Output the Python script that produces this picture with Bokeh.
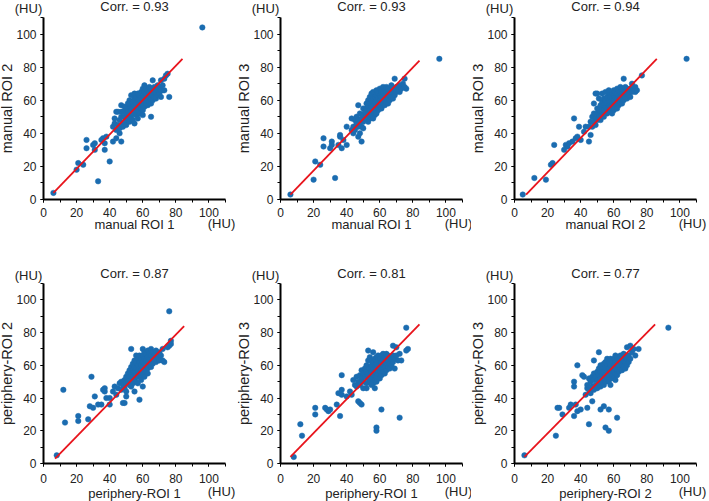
from bokeh.plotting import figure
from bokeh.layouts import row, column
from bokeh.models import Range1d, SingleIntervalTicker, Label, LinearAxis
from bokeh.embed import file_html
from bokeh.resources import INLINE

FONT = "Liberation Sans"
BLUE = "#1b6cb0"
RED = "#e8141c"
TXT = "#222222"

# ---------------- data ----------------
titles = ["Corr. = 0.93", "Corr. = 0.93", "Corr. = 0.94",
          "Corr. = 0.87", "Corr. = 0.81", "Corr. = 0.77"]
x_labels = ["manual ROI 1", "manual ROI 1", "manual ROI 2",
            "periphery-ROI 1", "periphery-ROI 1", "periphery-ROI 2"]
y_labels = ["manual ROI 2", "manual ROI 3", "manual ROI 3",
            "periphery-ROI 2", "periphery-ROI 3", "periphery-ROI 3"]
axis_min, axis_max = 0, 110
unit_label = "(HU)"

# fitted lines: (x0, x1), (y0, y1)
line1_x = [6, 84];  line1_y = [4, 85]
line2_x = [6, 84];  line2_y = [3, 84]
line3_x = [7, 86];  line3_y = [3, 85]
line4_x = [7, 85];  line4_y = [3, 84]
line5_x = [6, 84];  line5_y = [4, 85]
line6_x = [6, 85];  line6_y = [4, 85]

# manual ROI 1 vs manual ROI 2
pts1 = [(6,4),(20,18),(21,22),(24,21),(26,36),(26,31),(30,33),(31,34),(31,30),(33,11),
        (35,36),(36,37),(37,34),(37,30),(38,38),(40,23),(42,35),(47,35),(65,50),(76,62),
        (96,104),(74,75),(75,76),(73,73),(71,72),(72,66),
        (42,44),(43,46),(43,49),(44,42),(44,53),(45,45),(45,53),(46,48),(46,43),(47,50),
        (47,53),(48,46),(48,44),(48,53),(49,50),(49,47),(50,52),(50,45),(50,55),(51,49),
        (51,53),(52,47),(52,51),(52,56),(52,60),(53,50),(53,54),(53,57),(53,63),(54,52),
        (54,56),(54,59),(54,48),(55,54),(55,57),(55,61),(55,64),(56,51),(56,55),(56,58),
        (56,62),(57,53),(57,56),(57,60),(57,64),(58,52),(58,57),(58,60),(58,63),(59,55),
        (59,58),(59,62),(59,65),(60,54),(60,57),(60,60),(60,63),(60,67),(61,56),(61,59),
        (61,62),(61,65),(61,69),(62,58),(62,61),(62,64),(62,67),(63,57),(63,60),(63,63),
        (63,66),(64,59),(64,62),(64,65),(64,68),(65,58),(65,61),(65,64),(65,67),(66,60),
        (66,63),(66,66),(66,72),(67,62),(67,65),(67,68),(68,61),(68,64),(68,67),(69,63),
        (69,66),(69,69),(70,64),(70,67),(71,66),(71,62),(72,69),(73,66),(47,57),(49,56),
        (51,58),(44,37),(46,40),(55,46),(57,49),(60,51)]

# manual ROI 1 vs manual ROI 3
pts2 = [(6,3),(20,12),(21,23),(24,21),(26,37),(26,32),(30,31),(31,35),(31,33),(33,13),
        (35,33),(36,38),(37,31),(38,36),(40,33),(36,39),(40,44),(43,49),(45,44),(47,57),
        (47,38),(49,35),(44,40),(76,67),(75,73),(69,73),(96,85),(72,65),
        (43,42),(44,44),(45,48),(45,42),(46,46),(46,50),(47,44),(47,48),(48,46),(48,52),
        (49,49),(49,44),(50,51),(50,47),(50,55),(51,53),(51,49),(52,50),(52,55),(52,58),
        (53,52),(53,56),(53,60),(54,49),(54,54),(54,58),(54,62),(55,51),(55,56),(55,60),
        (55,64),(56,53),(56,57),(56,61),(56,65),(57,55),(57,59),(57,62),(57,51),(58,56),
        (58,60),(58,63),(58,66),(59,54),(59,58),(59,61),(59,64),(60,57),(60,60),(60,63),
        (60,67),(61,55),(61,59),(61,62),(61,65),(62,58),(62,61),(62,64),(62,68),(63,57),
        (63,60),(63,63),(63,66),(64,59),(64,62),(64,65),(64,68),(65,58),(65,61),(65,64),
        (65,67),(66,60),(66,63),(66,66),(67,62),(67,65),(67,69),(68,61),(68,64),(68,67),
        (69,63),(69,66),(70,65),(70,68),(71,66),(72,69),(73,67),(74,70),(75,68),(48,40),
        (50,43),(53,47),(56,49),(58,52)]

# manual ROI 2 vs manual ROI 3
pts3 = [(5,3),(12,13),(19,12),(22,21),(23,22),(24,33),(30,30),(31,33),(32,32),(33,34),
        (35,35),(36,49),(37,37),(38,38),(39,44),(40,36),(42,41),(43,44),(45,35),(46,39),
        (48,58),(49,64),(50,64),(104,85),(77,75),(73,65),(66,73),(71,70),
        (45,44),(46,47),(47,44),(47,50),(48,47),(48,52),(49,49),(49,45),(50,52),(50,48),
        (50,55),(51,50),(51,54),(52,48),(52,53),(52,57),(53,51),(53,55),(53,59),(54,50),
        (54,54),(54,57),(54,61),(55,53),(55,56),(55,60),(56,52),(56,55),(56,58),(56,62),
        (57,54),(57,57),(57,60),(57,64),(58,53),(58,56),(58,59),(58,62),(59,55),(59,58),
        (59,61),(59,64),(60,54),(60,57),(60,60),(60,63),(60,66),(61,56),(61,59),(61,62),
        (61,65),(62,58),(62,61),(62,64),(62,67),(63,57),(63,60),(63,63),(63,66),(64,59),
        (64,62),(64,65),(64,68),(65,58),(65,61),(65,64),(65,67),(66,60),(66,63),(66,66),
        (67,62),(67,65),(67,68),(68,61),(68,64),(68,67),(69,63),(69,66),(70,62),(70,67),
        (71,65),(72,67),(73,68),(74,66),(51,61),(53,64),(55,65),(57,66),(59,52),(62,55)]

# periphery-ROI 1 vs periphery-ROI 2
pts4 = [(8,5),(12,45),(13,25),(21,29),(21,26),(27,27),(28,35),(29,53),(30,34),(31,41),
        (33,36),(35,36),(36,45),(37,46),(37,44),(38,40),(40,36),(40,40),(42,44),(43,47),
        (44,42),(48,37),(49,37),(50,41),(55,44),(58,39),(60,47),(76,93),(77,75),(77,73),
        (76,72),(72,63),(73,62),(75,71),(53,70),
        (45,46),(46,49),(47,45),(47,50),(48,48),(49,51),(49,46),(50,53),(50,49),(51,50),
        (51,55),(52,48),(52,53),(52,57),(53,51),(53,55),(53,59),(54,49),(54,53),(54,57),
        (54,61),(55,52),(55,56),(55,59),(55,63),(56,50),(56,54),(56,58),(56,62),(56,66),
        (57,53),(57,57),(57,60),(57,64),(58,55),(58,58),(58,62),(58,66),(59,53),(59,57),
        (59,60),(59,64),(60,55),(60,59),(60,62),(60,66),(60,70),(61,57),(61,61),(61,64),
        (61,68),(62,56),(62,60),(62,63),(62,67),(63,58),(63,62),(63,65),(63,69),(64,60),
        (64,64),(64,67),(65,59),(65,62),(65,66),(65,70),(66,61),(66,64),(66,68),(67,63),
        (67,66),(68,62),(68,65),(68,69),(69,64),(69,67),(70,63),(70,68),(71,66),(72,70),
        (57,49),(59,51),(61,53),(63,55),(53,47),(50,44)]

# periphery-ROI 1 vs periphery-ROI 3
pts5 = [(8,4),(12,24),(13,17),(21,34),(21,30),(27,34),(28,33),(29,32),(30,33),(34,36),
        (35,43),(36,29),(37,54),(37,45),(37,42),(40,41),(42,44),(43,42),(44,51),(46,47),
        (47,38),(48,37),(49,36),(53,69),(56,68),(57,46),(58,22),(58,20),(61,33),(72,28),
        (76,83),(77,70),(76,69),(73,63),(68,72),(70,71),
        (45,48),(46,53),(47,50),(48,54),(48,48),(49,52),(49,57),(50,50),(50,55),(51,53),
        (51,58),(52,49),(52,56),(52,60),(53,52),(53,55),(53,63),(54,50),(54,54),(54,58),
        (54,65),(55,52),(55,56),(55,60),(55,63),(56,49),(56,54),(56,58),(56,62),(57,51),
        (57,56),(57,60),(57,64),(58,53),(58,57),(58,61),(58,65),(59,55),(59,59),(59,63),
        (59,66),(60,52),(60,56),(60,60),(60,64),(61,54),(61,58),(61,62),(61,66),(62,56),
        (62,60),(62,63),(62,67),(63,55),(63,59),(63,62),(63,65),(64,57),(64,61),(64,64),
        (64,67),(65,59),(65,63),(65,66),(66,58),(66,61),(66,65),(67,60),(67,64),(68,62),
        (68,66),(69,58),(69,64),(70,66),(71,63),(72,67),(52,46),(55,48),(58,50),(50,46)]

# periphery-ROI 2 vs periphery-ROI 3
pts6 = [(6,5),(25,17),(26,34),(27,34),(29,30),(33,34),(34,36),(36,29),(36,50),(36,47),
        (37,36),(38,60),(38,32),(40,33),(41,54),(42,53),(43,42),(44,34),(45,24),(44,46),
        (47,38),(48,63),(51,68),(52,33),(54,35),(55,22),(57,20),(57,33),(62,28),(93,83),
        (68,71),(70,72),(75,70),(73,66),
        (44,48),(45,45),(45,52),(46,43),(46,50),(47,47),(47,53),(48,45),(48,51),(48,55),
        (49,48),(49,53),(50,46),(50,51),(50,56),(51,49),(51,54),(51,58),(52,47),(52,52),
        (52,56),(52,60),(53,50),(53,54),(53,58),(54,48),(54,52),(54,56),(54,61),(55,50),
        (55,54),(55,58),(55,62),(56,52),(56,56),(56,60),(56,64),(57,50),(57,54),(57,58),
        (57,62),(58,52),(58,56),(58,60),(58,64),(59,54),(59,58),(59,62),(60,52),(60,56),
        (60,60),(60,64),(61,55),(61,58),(61,62),(61,66),(62,54),(62,57),(62,61),(62,65),
        (63,56),(63,60),(63,63),(64,58),(64,62),(64,66),(65,57),(65,60),(65,64),(66,59),
        (66,63),(66,67),(67,58),(67,62),(67,65),(68,60),(68,64),(69,62),(69,66),(70,64),
        (71,68),(72,70),(58,48),(61,51)]

all_pts = [pts1, pts2, pts3, pts4, pts5, pts6]
all_lx = [line1_x, line2_x, line3_x, line4_x, line5_x, line6_x]
all_ly = [line1_y, line2_y, line3_y, line4_y, line5_y, line6_y]

# ---------------- layout (pixels) ----------------
PLOT_X = 182               # pixel length of the 0..110 x span
PLOT_Y = [182, 180]        # pixel length of the 0..110 y span, per row
col_w = [237, 234, 238]
row_h = [248, 253]
LEFT = 43                  # y-axis position inside each figure
row_top = [17, 35]         # top of the axis span inside each figure
title_off = [11.5, 10]
hu_top_off = [9, 8]
x_tick_standoff = [5, 7]
x_label_standoff = [-3, 0]
hu_bottom_off = [-24, -28]


def make_panel(i):
    r, c = divmod(i, 3)
    W, H = col_w[c], row_h[r]
    kx = PLOT_X / (axis_max - axis_min)
    ky = PLOT_Y[r] / (axis_max - axis_min)
    bottom = H - row_top[r] - PLOT_Y[r]
    xr = Range1d(axis_min - LEFT / kx, axis_max + (W - LEFT - PLOT_X) / kx)
    yr = Range1d(axis_min - bottom / ky, axis_max + row_top[r] / ky)
    p = figure(width=W, height=H, x_range=xr, y_range=yr,
               x_axis_location=None, y_axis_location=None,
               min_border=0, output_backend="svg", toolbar_location=None)
    p.outline_line_color = None
    p.background_fill_color = "white"
    p.border_fill_color = "white"
    p.grid.visible = False

    xa = LinearAxis(fixed_location=axis_min, bounds=(axis_min, axis_max))
    ya = LinearAxis(fixed_location=axis_min, bounds=(axis_min, axis_max))
    for ax in (xa, ya):
        ax.ticker = SingleIntervalTicker(interval=20, num_minor_ticks=2)
        ax.axis_line_width = 2
        ax.axis_line_color = "black"
        ax.major_tick_line_color = "black"
        ax.minor_tick_line_color = "black"
        ax.major_tick_out = 3
        ax.major_tick_in = 0
        ax.minor_tick_out = 3
        ax.minor_tick_in = 0
        ax.major_label_text_font = FONT
        ax.major_label_text_font_size = "12px"
        ax.major_label_text_color = TXT
        ax.axis_label_text_font = FONT
        ax.axis_label_text_font_style = "normal"
        ax.axis_label_text_color = TXT
    xa.axis_label = x_labels[i]
    ya.axis_label = y_labels[i]
    xa.axis_label_text_font_size = "13px"
    ya.axis_label_text_font_size = "14.5px"
    xa.major_label_standoff = x_tick_standoff[r]
    xa.axis_label_standoff = x_label_standoff[r]
    ya.major_label_standoff = 4
    ya.axis_label_standoff = -2
    p.add_layout(xa, "below")
    p.add_layout(ya, "left")

    xs = [a for a, b in all_pts[i]]
    ys = [b for a, b in all_pts[i]]
    p.scatter(xs, ys, size=5.5, fill_color=BLUE, line_color=BLUE, line_width=0.5)
    p.line(all_lx[i], all_ly[i], line_color=RED, line_width=1.8)

    common = dict(text_font=FONT, text_color=TXT, text_align="center",
                  text_baseline="middle")
    p.add_layout(Label(x=(axis_min + axis_max) / 2, y=axis_max,
                       y_offset=title_off[r], text=titles[i],
                       text_font_size="13px", **common))
    p.add_layout(Label(x=axis_min, y=axis_max, x_offset=-15, y_offset=hu_top_off[r],
                       text=unit_label, text_font_size="13px", **common))
    p.add_layout(Label(x=axis_max, y=axis_min, x_offset=-4, y_offset=hu_bottom_off[r],
                       text=unit_label, text_font_size="13px", **common))
    return p


panels = [make_panel(i) for i in range(6)]
layout = column(row(*panels[:3]), row(*panels[3:]))
open("out.html", "w").write(file_html(layout, INLINE))
